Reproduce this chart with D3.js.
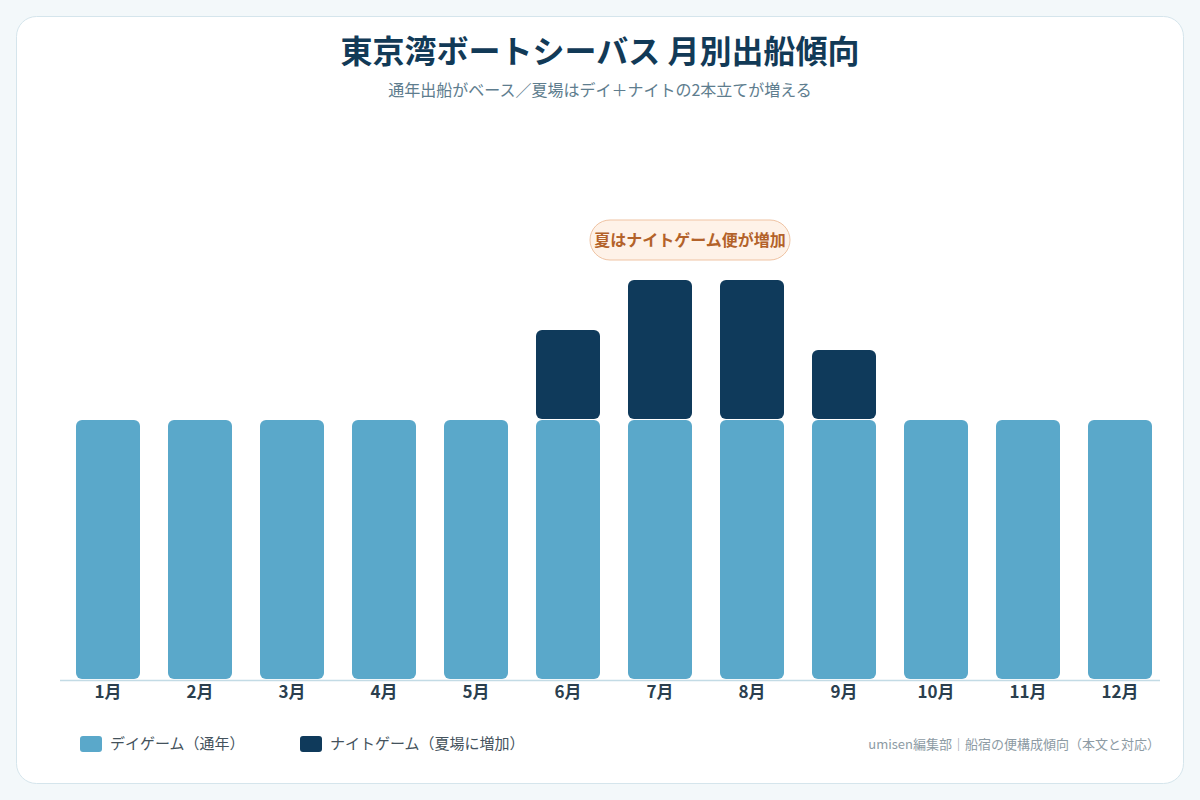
<!DOCTYPE html>
<html>
<head>
<meta charset="utf-8" />
<style>
    html, body { margin: 0; padding: 0; background: #f3f8fa; }
    body { width: 1200px; height: 800px; overflow: hidden; }
    svg { display: block; font-family: "Noto Sans CJK JP", "Noto Sans", sans-serif; }
</style>
</head>
<body>
<div id="chart"></div>
<script src="https://cdnjs.cloudflare.com/ajax/libs/d3/7.8.5/d3.min.js"></script>
<script>
// data (relative trip counts)
var months = ['1月', '2月', '3月', '4月', '5月', '6月', '7月', '8月', '9月', '10月', '11月', '12月'];
var dayGame = [26, 26, 26, 26, 26, 26, 26, 26, 26, 26, 26, 26];
var nightGame = [0, 0, 0, 0, 0, 9, 14, 14, 7, 0, 0, 0];
var seriesNames = ['デイゲーム（通年）', 'ナイトゲーム（夏場に増加）'];
var seriesColors = ['#5aa8ca', '#0f3a5b'];

var width = 1200, height = 800;

var svg = d3.select('#chart').append('svg')
    .attr('width', width)
    .attr('height', height);

// card
svg.append('rect')
    .attr('x', 16.5).attr('y', 16.5)
    .attr('width', 1167).attr('height', 767)
    .attr('rx', 20)
    .attr('fill', '#ffffff')
    .attr('stroke', '#d5e5ec');

svg.append('text')
    .attr('x', 600).attr('y', 63)
    .attr('text-anchor', 'middle')
    .attr('font-size', 32).attr('font-weight', 700)
    .attr('fill', '#123a57')
    .text('東京湾ボートシーバス 月別出船傾向');

svg.append('text')
    .attr('x', 600).attr('y', 96)
    .attr('text-anchor', 'middle')
    .attr('font-size', 16)
    .attr('fill', '#5e7d8e')
    .text('通年出船がベース／夏場はデイ＋ナイトの2本立てが増える');

var x = d3.scaleBand()
    .domain(months)
    .range([62, 1166])
    .paddingInner(28 / 92)
    .paddingOuter(14 / 92);

var y = d3.scaleLinear()
    .domain([0, 40])
    .range([680, 280]);

var rows = months.map(function(m, i) {
    return { month: m, day: dayGame[i], night: nightGame[i] };
});

// day bars
svg.append('g').selectAll('rect')
    .data(rows)
    .enter().append('rect')
    .attr('x', function(d) { return x(d.month); })
    .attr('y', function(d) { return y(d.day); })
    .attr('width', x.bandwidth())
    .attr('height', function(d) { return y(0) - y(d.day) - 1; })
    .attr('rx', 6)
    .attr('fill', seriesColors[0]);

// night bars stacked on top
svg.append('g').selectAll('rect')
    .data(rows.filter(function(d) { return d.night > 0; }))
    .enter().append('rect')
    .attr('x', function(d) { return x(d.month); })
    .attr('y', function(d) { return y(d.day + d.night); })
    .attr('width', x.bandwidth())
    .attr('height', function(d) { return y(d.day) - y(d.day + d.night) - 1; })
    .attr('rx', 6)
    .attr('fill', seriesColors[1]);

// baseline
svg.append('line')
    .attr('x1', 60).attr('x2', 1160)
    .attr('y1', 680.5).attr('y2', 680.5)
    .attr('stroke', '#c3dbe5')
    .attr('stroke-width', 1.5);

// month labels
svg.append('g').selectAll('text')
    .data(months)
    .enter().append('text')
    .attr('x', function(d) { return x(d) + x.bandwidth() / 2; })
    .attr('y', 698)
    .attr('text-anchor', 'middle')
    .attr('font-size', 17).attr('font-weight', 700)
    .attr('fill', '#2b3f4e')
    .text(function(d) { return d; });

// annotation pill
var ann = svg.append('g')
    .attr('transform', 'translate(' + (x('7月') + x.bandwidth() / 2 + 30) + ',240)');
ann.append('rect')
    .attr('x', -100).attr('y', -20)
    .attr('width', 200).attr('height', 40)
    .attr('rx', 20)
    .attr('fill', '#fef2e8')
    .attr('stroke', '#efc3a3');
ann.append('text')
    .attr('y', 6)
    .attr('text-anchor', 'middle')
    .attr('font-size', 16).attr('font-weight', 700)
    .attr('fill', '#b3622a')
    .text('夏はナイトゲーム便が増加');

// legend
var legendX = [80, 300];
var legend = svg.append('g').selectAll('g')
    .data(seriesNames)
    .enter().append('g')
    .attr('transform', function(d, i) { return 'translate(' + legendX[i] + ',736)'; });
legend.append('rect')
    .attr('width', 22).attr('height', 16)
    .attr('rx', 3)
    .attr('fill', function(d, i) { return seriesColors[i]; });
legend.append('text')
    .attr('x', 30).attr('y', 13)
    .attr('font-size', 15)
    .attr('fill', '#44525c')
    .text(function(d) { return d; });

svg.append('text')
    .attr('x', 1160).attr('y', 749)
    .attr('text-anchor', 'end')
    .attr('font-size', 13)
    .attr('fill', '#8d9ba4')
    .text('umisen編集部｜船宿の便構成傾向（本文と対応）');
</script>
</body>
</html>
